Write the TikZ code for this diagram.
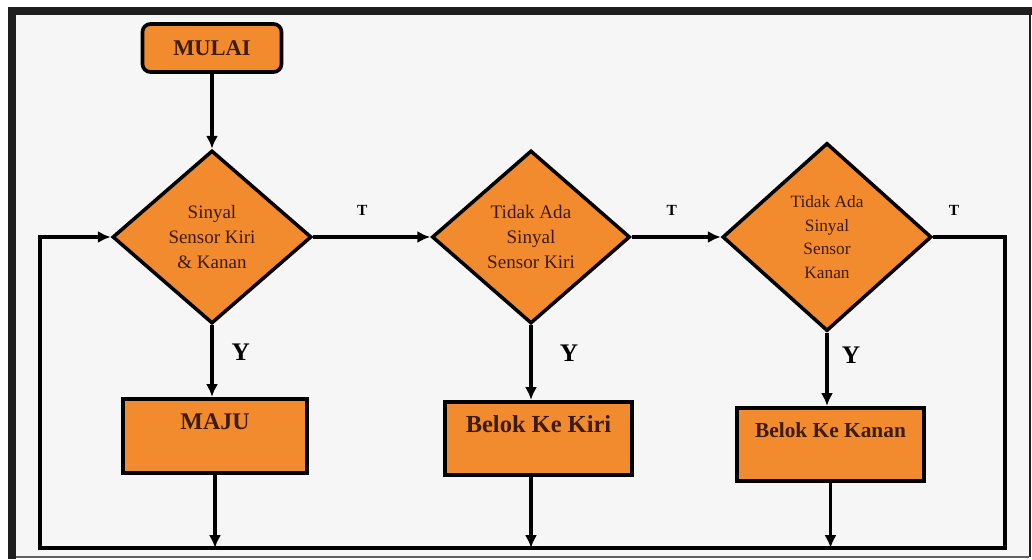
\documentclass[tikz,border=0pt]{standalone}
\usepackage{fontspec}
\setmainfont{Liberation Serif}
\usetikzlibrary{shapes.geometric, arrows.meta, positioning}
\definecolor{flowfill}{HTML}{F28A2E}
\definecolor{flowink}{HTML}{3D1C0C}
\definecolor{paper}{HTML}{F6F6F6}
\definecolor{framedark}{HTML}{1E1E1E}

\begin{document}
\begin{tikzpicture}[x=0.025cm, y=-0.025cm,
  startbox/.style={draw=black, line width=2.6pt, fill=flowfill, rounded corners=0.2cm,
    minimum width=3.475cm, minimum height=1.2cm, text=flowink,
    font=\bfseries\fontsize{16}{19}\selectfont},
  decision/.style={diamond, draw=black, line width=2.5pt, fill=flowfill, inner sep=0pt,
    align=center, text=flowink},
  actionbox/.style={rectangle, draw=black, line width=2.9pt, fill=flowfill, text=flowink,
    inner sep=0pt, text depth=0.7cm},
  flowline/.style={draw=black, line width=2.5pt},
  flowarrow/.style={flowline, -{Latex[length=0.32cm, width=0.3cm]}},
  tlabel/.style={text=black, font=\bfseries\fontsize{11}{13}\selectfont},
  ylabel/.style={text=black, font=\bfseries\fontsize{18}{21}\selectfont}]

% Screenshot frame
\useasboundingbox (0,0) rectangle (1032,559);
\fill[white] (0,0) rectangle (1032,559);
\fill[paper] (16,15) rectangle (1029,557);
\fill[framedark] (8,7) rectangle (16,559);
\fill[framedark] (8,7) rectangle (1032,15);
\fill[framedark] (1029,15) rectangle (1031,557);
\fill[framedark!70] (16,556) rectangle (1029,558);

% Start
\node[startbox] (mulai) at (212,48) {MULAI};

% Decisions
\node[decision, minimum width=4.975cm, minimum height=4.325cm,
  font=\fontsize{13.5}{17.7}\selectfont] (cekdua) at (212,237)
  {Sinyal\\Sensor Kiri\\\& Kanan};
\node[decision, minimum width=4.95cm, minimum height=4.325cm,
  font=\fontsize{13.6}{17.5}\selectfont] (cekkiri) at (531,237)
  {Tidak Ada\\Sinyal\\Sensor Kiri};
\node[decision, minimum width=5.225cm, minimum height=4.7cm,
  font=\fontsize{12.3}{16.7}\selectfont] (cekkanan) at (827,237)
  {Tidak Ada\\Sinyal\\Sensor\\Kanan};

% Actions
\node[actionbox, minimum width=4.6cm, minimum height=1.85cm,
  font=\bfseries\fontsize{17}{20}\selectfont] (maju) at (215,436) {MAJU};
\node[actionbox, minimum width=4.675cm, minimum height=1.825cm,
  font=\bfseries\fontsize{17.4}{20}\selectfont] (kiri) at (538.5,438.5) {Belok Ke Kiri};
\node[actionbox, minimum width=4.675cm, minimum height=1.825cm,
  font=\bfseries\fontsize{15.2}{18}\selectfont] (kanan) at (830.5,444.5) {Belok Ke Kanan};

% Return loop corners
\coordinate (rtop) at (1005,237);
\coordinate (rbot) at (1005,548);
\coordinate (lbot) at (40,548);
\coordinate (ltop) at (40,237);

% Connectors
\draw[flowarrow] (mulai.south) -- (cekdua.north);
\draw[flowarrow] (cekdua.east) -- node[tlabel, pos=0.42, yshift=0.675cm] (tsatu) {T} (cekkiri.west);
\draw[flowarrow] (cekkiri.east) -- node[tlabel, pos=0.45, yshift=0.675cm] (tdua) {T} (cekkanan.west);
\draw[flowarrow] (cekkanan.east) -- node[tlabel, pos=0.29, yshift=0.675cm] (ttiga) {T} (rtop)
  -- (rbot) -- (lbot) -- (ltop) -- (cekdua.west);

\draw[flowarrow] (cekdua.south) -- node[ylabel, pos=0.38, xshift=0.72cm] (ysatu) {Y} (cekdua.south |- maju.north);
\draw[flowarrow] (cekkiri.south) -- node[ylabel, pos=0.37, xshift=0.95cm] (ydua) {Y} (cekkiri.south |- kiri.north);
\draw[flowarrow] (cekkanan.south) -- node[ylabel, pos=0.3, xshift=0.6cm] (ytiga) {Y} (cekkanan.south |- kanan.north);

\draw[flowarrow] (maju.south) -- (maju.south |- lbot);
\draw[flowarrow] (cekkiri.south |- kiri.south) -- (cekkiri.south |- lbot);
\draw[flowarrow] (kanan.south) -- (kanan.south |- lbot);

\end{tikzpicture}
\end{document}
